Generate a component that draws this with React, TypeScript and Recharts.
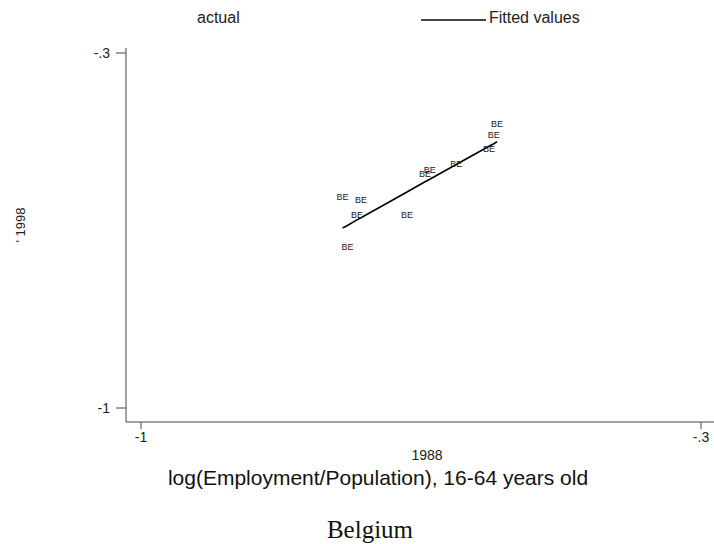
import React from 'react';
import { ComposedChart, Scatter, Line, XAxis, YAxis } from 'recharts';

// log(employment/population) 1988 vs 1998, Belgium
const emp1988 = [-0.748, -0.725, -0.730, -0.6675, -0.742, -0.645, -0.639, -0.606, -0.555, -0.559, -0.565];
const emp1998 = [-0.584, -0.590, -0.620, -0.620, -0.683, -0.538, -0.530, -0.518, -0.440, -0.462, -0.490];
const fitted = [-0.645, -0.625, -0.629, -0.574, -0.640, -0.554, -0.549, -0.520, -0.475, -0.479, -0.484];
const countryCodes = ['BE', 'BE', 'BE', 'BE', 'BE', 'BE', 'BE', 'BE', 'BE', 'BE', 'BE'];
const axisTicks = [-1, -0.3];

const actualData = emp1988.map((x, i) => ({ x, y: emp1998[i], code: countryCodes[i] }));
const fittedData = emp1988
  .map((x, i) => ({ x, fit: fitted[i] }))
  .sort((a, b) => a.x - b.x);

const fmt = (v: number) => String(v).replace('0.', '.');

const sans = '"Liberation Sans", Arial, sans-serif';

const CodeLabel = (props: any) => {
  const { cx, cy, payload } = props;
  return (
    <text x={cx} y={cy} textAnchor="middle" dominantBaseline="central" fontSize={9} fontFamily={sans} fill="#222">
      {payload.code}
    </text>
  );
};

export default function App() {
  return (
    <div style={{ position: 'absolute', left: 0, top: 0, width: 714, height: 544, background: '#fff', fontFamily: sans }}>
      <ComposedChart width={714} height={544} margin={{ top: 48, right: 0, bottom: 0, left: 0 }}>
        <XAxis
          dataKey="x"
          type="number"
          domain={[-1, -0.3]}
          ticks={axisTicks}
          tickFormatter={fmt}
          height={122}
          padding={{ left: 15, right: 13 }}
          tickSize={7}
          tickMargin={3}
          stroke="#444"
          tick={{ fill: '#222', fontSize: 14, fontFamily: sans }}
        />
        <YAxis
          dataKey="y"
          type="number"
          domain={[-1, -0.3]}
          ticks={axisTicks}
          tickFormatter={fmt}
          width={126}
          padding={{ top: 5, bottom: 14 }}
          tickSize={10}
          tickMargin={6}
          stroke="#444"
          tick={{ fill: '#222', fontSize: 14, fontFamily: sans }}
        />
        <Scatter name="actual" data={actualData} dataKey="y" shape={<CodeLabel />} isAnimationActive={false} />
        <Line
          name="Fitted values"
          data={fittedData}
          dataKey="fit"
          stroke="#000"
          strokeWidth={1.6}
          dot={false}
          isAnimationActive={false}
        />
      </ComposedChart>

      {/* legend */}
      <div style={{ position: 'absolute', left: 197, top: 9, fontSize: 16, color: '#222' }}>actual</div>
      <div style={{ position: 'absolute', left: 421, top: 19, width: 65, height: 1.5, background: '#444' }} />
      <div style={{ position: 'absolute', left: 489, top: 9, fontSize: 16, color: '#222' }}>Fitted values</div>

      {/* y title */}
      <div
        style={{
          position: 'absolute',
          left: 20,
          top: 225,
          transform: 'translate(-50%, -50%) rotate(-90deg)',
          fontSize: 13,
          color: '#222',
          whiteSpace: 'nowrap',
        }}
      >
        ' 1998
      </div>

      {/* x title */}
      <div style={{ position: 'absolute', left: 427, top: 455, transform: 'translate(-50%, -50%)', fontSize: 14, color: '#222' }}>
        1988
      </div>
      <div
        style={{
          position: 'absolute',
          left: 378,
          top: 478,
          transform: 'translate(-50%, -50%)',
          fontSize: 21,
          color: '#111',
          whiteSpace: 'nowrap',
        }}
      >
        log(Employment/Population), 16-64 years old
      </div>
      <div
        style={{
          position: 'absolute',
          left: 370,
          top: 530,
          transform: 'translate(-50%, -50%)',
          fontSize: 25,
          fontFamily: '"Liberation Serif", "Times New Roman", serif',
          color: '#111',
          whiteSpace: 'nowrap',
        }}
      >
        Belgium
      </div>
    </div>
  );
}
